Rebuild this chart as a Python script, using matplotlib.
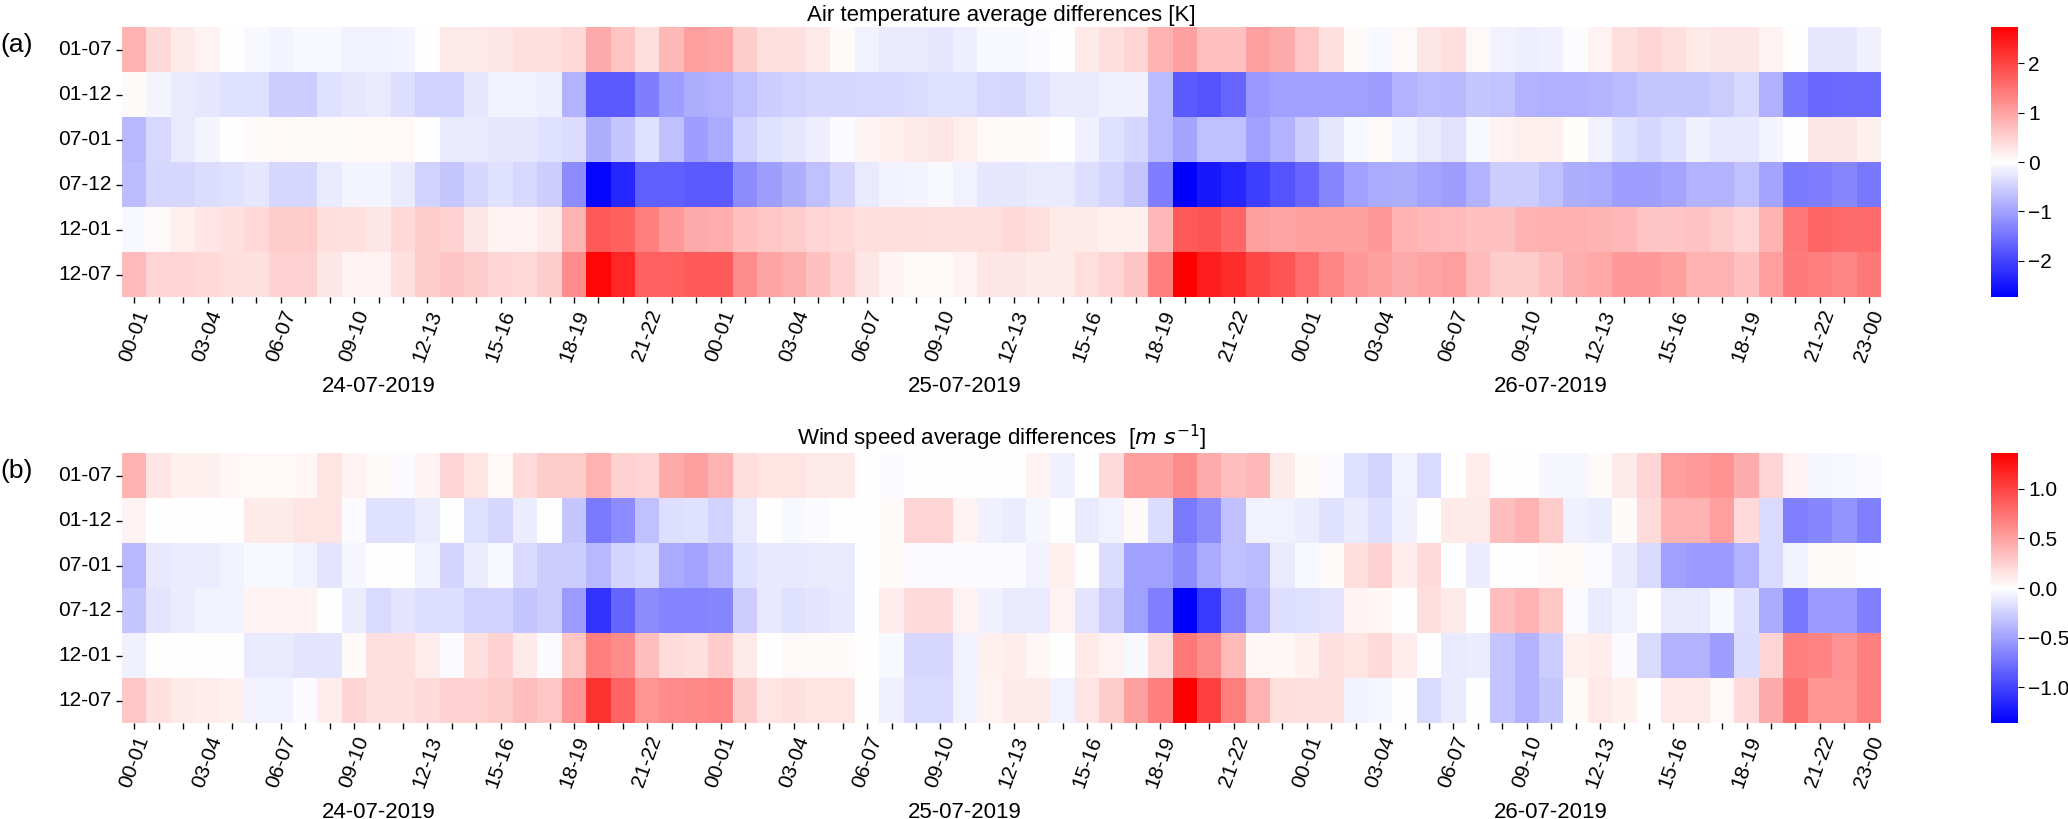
import numpy as np
import matplotlib
matplotlib.use("Agg")
import matplotlib.pyplot as plt
import seaborn as sns

plt.rcParams["font.family"] = ["Liberation Sans", "DejaVu Sans"]

pairs = ["01-07", "01-12", "07-01", "07-12", "12-01", "12-07"]
days = ["24-07-2019", "25-07-2019", "26-07-2019"]
hours = [f"{h:02d}-{(h + 1) % 24:02d}" for h in range(24)]

# air temperature differences [K], 72 hourly values per pair
t_01_07 = [0.82, 0.41, 0.22, 0.14, 0.0, -0.08, -0.11, -0.08, -0.08, -0.14,
           -0.14, -0.11, 0.0, 0.22, 0.22, 0.27, 0.33, 0.33, 0.41, 0.90,
           0.63, 0.35, 0.76, 1.04, 0.96, 0.55, 0.35, 0.33, 0.22, 0.05,
           -0.14, -0.22, -0.22, -0.27, -0.19, -0.08, -0.08, -0.05, 0.0, 0.22,
           0.35, 0.46, 0.82, 1.01, 0.68, 0.68, 1.01, 0.90, 0.60, 0.33,
           0.05, -0.08, 0.08, 0.27, 0.33, 0.08, -0.14, -0.19, -0.16, -0.03,
           0.14, 0.35, 0.46, 0.35, 0.22, 0.27, 0.27, 0.14, 0.0, -0.27,
           -0.27, -0.16]
t_01_12 = [0.05, -0.11, -0.22, -0.27, -0.33, -0.33, -0.55, -0.55, -0.33, -0.27,
           -0.22, -0.35, -0.49, -0.49, -0.27, -0.14, -0.14, -0.19, -0.82, -1.77,
           -1.77, -1.37, -1.04, -0.87, -0.82, -0.68, -0.55, -0.49, -0.44, -0.44,
           -0.41, -0.41, -0.38, -0.33, -0.33, -0.41, -0.44, -0.33, -0.22, -0.22,
           -0.16, -0.16, -0.74, -1.77, -1.83, -1.64, -1.09, -1.01, -1.01, -1.01,
           -1.01, -1.04, -0.82, -0.74, -0.76, -0.60, -0.66, -0.82, -0.85, -0.85,
           -0.79, -0.74, -0.60, -0.60, -0.63, -0.55, -0.41, -0.85, -1.45, -1.61,
           -1.58, -1.58]
t_07_01 = [-0.76, -0.41, -0.22, -0.11, 0.0, 0.05, 0.08, 0.05, 0.05, 0.08,
           0.08, 0.08, 0.0, -0.22, -0.22, -0.27, -0.27, -0.33, -0.38, -0.87,
           -0.60, -0.33, -0.68, -1.04, -0.90, -0.49, -0.33, -0.27, -0.19, -0.05,
           0.11, 0.16, 0.22, 0.27, 0.19, 0.08, 0.05, 0.05, 0.0, -0.16,
           -0.33, -0.44, -0.74, -0.96, -0.68, -0.68, -1.01, -0.82, -0.55, -0.27,
           -0.08, 0.05, -0.11, -0.22, -0.30, -0.08, 0.14, 0.19, 0.16, 0.03,
           -0.14, -0.33, -0.44, -0.33, -0.16, -0.25, -0.25, -0.11, 0.0, 0.27,
           0.27, 0.16]
t_07_12 = [-0.71, -0.44, -0.44, -0.38, -0.33, -0.27, -0.44, -0.44, -0.22, -0.11,
           -0.11, -0.22, -0.49, -0.60, -0.44, -0.33, -0.41, -0.55, -1.23, -2.65,
           -2.32, -1.69, -1.69, -1.77, -1.77, -1.23, -1.04, -0.87, -0.68, -0.46,
           -0.22, -0.14, -0.11, -0.08, -0.14, -0.27, -0.27, -0.22, -0.22, -0.35,
           -0.46, -0.63, -1.37, -2.72, -2.46, -2.32, -2.05, -1.83, -1.64, -1.28,
           -1.01, -0.90, -0.87, -0.98, -1.04, -0.82, -0.55, -0.55, -0.68, -0.87,
           -0.90, -1.04, -1.04, -0.98, -0.82, -0.82, -0.68, -0.98, -1.42, -1.37,
           -1.28, -1.45]
t_12_01 = [-0.08, 0.08, 0.19, 0.27, 0.33, 0.41, 0.55, 0.55, 0.35, 0.33,
           0.27, 0.41, 0.55, 0.49, 0.27, 0.14, 0.14, 0.22, 0.82, 1.77,
           1.69, 1.37, 1.09, 0.90, 0.87, 0.68, 0.60, 0.55, 0.46, 0.41,
           0.35, 0.35, 0.35, 0.33, 0.33, 0.35, 0.41, 0.35, 0.22, 0.22,
           0.16, 0.16, 0.76, 1.77, 1.83, 1.64, 1.01, 0.96, 1.01, 1.01,
           1.01, 1.09, 0.82, 0.76, 0.74, 0.68, 0.68, 0.82, 0.85, 0.85,
           0.79, 0.76, 0.63, 0.63, 0.66, 0.55, 0.44, 0.82, 1.45, 1.64,
           1.58, 1.58]
t_12_07 = [0.74, 0.46, 0.46, 0.41, 0.35, 0.33, 0.49, 0.49, 0.27, 0.14,
           0.14, 0.33, 0.55, 0.63, 0.55, 0.44, 0.41, 0.55, 1.23, 2.65,
           2.32, 1.69, 1.69, 1.77, 1.77, 1.23, 0.96, 0.87, 0.68, 0.49,
           0.27, 0.14, 0.08, 0.08, 0.14, 0.27, 0.27, 0.22, 0.22, 0.35,
           0.46, 0.63, 1.37, 2.73, 2.40, 2.24, 1.97, 1.83, 1.56, 1.28,
           1.09, 1.01, 0.90, 0.96, 1.04, 0.74, 0.55, 0.55, 0.68, 0.87,
           0.93, 1.09, 1.09, 1.01, 0.82, 0.82, 0.68, 1.04, 1.42, 1.37,
           1.28, 1.45]

# wind speed differences [m s-1]
w_01_07 = [0.41, 0.14, 0.08, 0.08, 0.05, 0.04, 0.04, 0.05, 0.14, 0.07,
           0.03, -0.03, 0.07, 0.23, 0.14, 0.04, 0.20, 0.27, 0.27, 0.41,
           0.24, 0.23, 0.45, 0.50, 0.41, 0.18, 0.14, 0.14, 0.11, 0.11,
           0.0, -0.03, 0.01, 0.01, 0.0, 0.0, 0.0, 0.07, -0.08, 0.0,
           0.20, 0.50, 0.50, 0.61, 0.44, 0.34, 0.38, 0.11, 0.03, -0.03,
           -0.16, -0.23, -0.07, -0.20, 0.0, 0.10, 0.01, 0.01, -0.05, -0.05,
           0.03, 0.11, 0.23, 0.52, 0.54, 0.58, 0.44, 0.23, 0.07, -0.05,
           -0.04, -0.03]
w_01_12 = [0.07, 0.0, 0.0, 0.0, 0.0, 0.11, 0.11, 0.14, 0.14, -0.03,
           -0.16, -0.16, -0.10, 0.01, -0.16, -0.22, -0.10, 0.01, -0.30, -0.71,
           -0.61, -0.34, -0.18, -0.16, -0.24, -0.11, -0.01, -0.04, -0.03, -0.01,
           -0.01, 0.03, 0.23, 0.23, 0.07, -0.08, -0.10, -0.05, -0.01, -0.11,
           -0.07, 0.03, -0.19, -0.71, -0.61, -0.34, -0.07, -0.07, -0.10, -0.16,
           -0.11, -0.18, -0.08, 0.0, 0.11, 0.11, 0.34, 0.41, 0.27, -0.08,
           -0.10, 0.03, 0.20, 0.41, 0.41, 0.52, 0.20, -0.20, -0.68, -0.64,
           -0.57, -0.68]
w_07_01 = [-0.38, -0.12, -0.10, -0.10, -0.07, -0.04, -0.04, -0.07, -0.14, -0.05,
           -0.01, 0.01, -0.07, -0.23, -0.10, -0.04, -0.20, -0.27, -0.27, -0.38,
           -0.23, -0.20, -0.45, -0.49, -0.41, -0.16, -0.12, -0.12, -0.11, -0.11,
           0.0, 0.03, -0.03, -0.03, -0.03, -0.03, -0.03, -0.07, 0.08, 0.0,
           -0.19, -0.50, -0.50, -0.61, -0.44, -0.34, -0.37, -0.11, -0.04, 0.03,
           0.18, 0.24, 0.10, 0.20, -0.01, -0.10, -0.01, -0.01, 0.04, 0.04,
           -0.03, -0.11, -0.20, -0.50, -0.54, -0.54, -0.41, -0.20, -0.07, 0.03,
           0.03, 0.01]
w_07_12 = [-0.30, -0.14, -0.10, -0.07, -0.07, 0.07, 0.07, 0.07, 0.01, -0.10,
           -0.20, -0.14, -0.18, -0.18, -0.24, -0.24, -0.30, -0.27, -0.54, -1.09,
           -0.82, -0.61, -0.65, -0.65, -0.64, -0.27, -0.12, -0.16, -0.14, -0.12,
           -0.01, 0.10, 0.20, 0.20, 0.07, -0.08, -0.11, -0.11, 0.07, -0.14,
           -0.27, -0.50, -0.68, -1.36, -1.05, -0.68, -0.41, -0.18, -0.16, -0.14,
           0.07, 0.05, 0.0, 0.18, 0.11, 0.0, 0.34, 0.41, 0.30, -0.03,
           -0.11, -0.07, 0.0, -0.11, -0.11, -0.04, -0.18, -0.45, -0.72, -0.54,
           -0.54, -0.68]
w_12_01 = [-0.08, -0.01, 0.0, 0.0, -0.01, -0.11, -0.11, -0.14, -0.14, 0.03,
           0.16, 0.16, 0.10, -0.03, 0.16, 0.24, 0.11, -0.03, 0.30, 0.68,
           0.61, 0.34, 0.19, 0.16, 0.27, 0.11, 0.01, 0.04, 0.03, 0.03,
           0.01, -0.04, -0.22, -0.22, -0.07, 0.08, 0.10, 0.05, 0.01, 0.11,
           0.07, -0.04, 0.19, 0.72, 0.61, 0.37, 0.05, 0.05, 0.08, 0.16,
           0.14, 0.20, 0.10, -0.01, -0.11, -0.10, -0.31, -0.41, -0.27, 0.08,
           0.10, -0.03, -0.20, -0.41, -0.41, -0.52, -0.19, 0.23, 0.68, 0.65,
           0.58, 0.68]
w_12_07 = [0.30, 0.16, 0.11, 0.10, 0.08, -0.07, -0.07, -0.03, 0.10, 0.23,
           0.16, 0.16, 0.20, 0.24, 0.24, 0.27, 0.34, 0.30, 0.57, 1.09,
           0.82, 0.57, 0.61, 0.63, 0.64, 0.27, 0.14, 0.16, 0.14, 0.14,
           0.01, -0.08, -0.20, -0.20, -0.07, 0.07, 0.11, 0.11, -0.07, 0.14,
           0.27, 0.50, 0.68, 1.36, 1.02, 0.68, 0.41, 0.18, 0.16, 0.16,
           -0.07, -0.05, 0.0, -0.20, -0.11, 0.0, -0.31, -0.41, -0.30, 0.03,
           0.12, 0.08, 0.0, 0.12, 0.12, 0.04, 0.20, 0.45, 0.75, 0.57,
           0.57, 0.68]

temp = np.array([t_01_07, t_01_12, t_07_01, t_07_12, t_12_01, t_12_07])
wind = np.array([w_01_07, w_01_12, w_07_01, w_07_12, w_12_01, w_12_07])

all_hours = hours * len(days)
last = len(all_hours) - 1
xlabels = [h if (i % 3 == 0 or i == last) else "" for i, h in enumerate(all_hours)]

W, H = 2068, 819
fig = plt.figure(figsize=(W / 100, H / 100), dpi=100)

panels = [
    ("(a)", temp, 2.73, "Air temperature average differences [K]", 27),
    ("(b)", wind, 1.36, r"Wind speed average differences  [$m\ s^{-1}$]", 453),
]

for tag, data, vlim, title, top in panels:
    ax = fig.add_axes([122 / W, 1 - (top + 270) / H, 1759 / W, 270 / H])
    cax = fig.add_axes([1991 / W, 1 - (top + 270) / H, 27 / W, 270 / H])
    sns.heatmap(data, ax=ax, cbar_ax=cax, cmap="bwr", vmin=-vlim, vmax=vlim,
                xticklabels=xlabels, yticklabels=pairs)
    ax.set_xticks(np.arange(data.shape[1]) + 0.5)
    ax.set_xticklabels(xlabels, rotation=70, fontsize=15)
    ax.set_yticklabels(pairs, rotation=0, fontsize=15)
    ax.tick_params(length=4, width=1)
    ax.set_title(title, fontsize=16, pad=4)
    cax.tick_params(labelsize=15, length=4)
    for k, d in enumerate(days):
        ax.text(10.5 + 24 * k, -0.33, d, transform=ax.get_xaxis_transform(),
                ha="center", va="center", fontsize=16)
    fig.text(0.0, 1 - (top + 18) / H, tag, ha="left", va="center", fontsize=19)

fig.savefig("out.png", dpi=100)
